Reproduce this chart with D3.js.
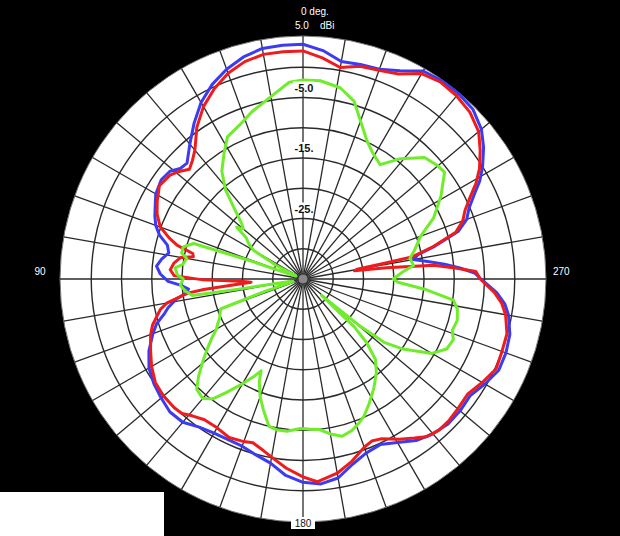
<!DOCTYPE html>
<meta charset="utf-8">
<style>
  body { margin: 0; background: #000; }
  svg { display: block; }
</style>
<script src="https://d3js.org/d3.v7.min.js"></script>
<div id="chart"></div>
<script>
// azimuth (deg, counter-clockwise from top) and gain (dBi) for each trace
var blueAngle = [0,5,10,15,20,25,30,35,40,45,48,51,55,60,63,67,70,73,76,79,82,85,88,91,93,95,97,99,102,104,107,110,115,120,125,130,135,140,145,150,155,160,165,170,175,180,185,190,195,200,205,210,215,220,225,230,235,240,245,250,255,260,263,266,270,272,274,276,278,280,282,284,287,290,293,296,299,302,306,310,315,320,325,330,335,340,345,350,355];
var blueDb = [3.8,3.8,3.7,3.0,1.9,0.5,-1.3,-3.6,-5.9,-7.9,-7.7,-6.7,-6.4,-6.9,-7.6,-8.4,-9.1,-10.2,-11.9,-12.4,-11.4,-10.7,-11.4,-12.7,-14.8,-16.0,-15.5,-13.8,-12.2,-11.4,-9.7,-8.6,-6.9,-5.6,-4.9,-4.4,-3.9,-4.1,-5.1,-5.6,-5.7,-5.6,-4.9,-4.1,-2.4,-1.4,-1.0,-1.6,-3.3,-4.4,-4.8,-3.8,-2.4,-1.6,-1.1,-1.1,-1.3,-0.3,0.7,0.7,0.4,-0.5,-1.4,-2.9,-5.6,-6.6,-9.0,-11.5,-14.2,-16.5,-15.5,-12.5,-8.2,-6.2,-5.2,-3.6,-1.6,0.0,1.9,3.5,4.7,5.0,5.0,4.7,3.0,1.9,1.7,1.5,2.9];

var redAngle = [0,5,10,15,20,25,30,35,40,43,46,49,52,57,62,66,70,73,75,77,78.5,80,83,86,88.5,90.5,92,93.5,95,96,97,100,102,107,110,115,120,125,130,135,138,141,145,150,155,160,163,167,170,175,180,184,190,195,200,203,206,211,215,218,222,226,230,235,240,245,250,255,260,263,266,270,272.5,274,276,277.7,279,280.2,281,281.5,284,287,290,293,296,299,302,306,310,315,320,325,330,335,340,345,350,355];
var redDb = [2.7,2.7,2.7,2.2,1.2,-0.3,-2.1,-4.4,-7.2,-8.2,-8.9,-7.9,-7.1,-6.7,-7.7,-8.6,-9.9,-11.9,-13.5,-16.3,-16.5,-14.5,-13.5,-13.0,-13.7,-18.5,-24.7,-26.4,-23.1,-18.5,-15.8,-12.2,-10.9,-9.0,-8.2,-7.2,-6.1,-5.2,-4.9,-4.9,-5.1,-5.9,-6.6,-6.6,-6.1,-6.4,-6.7,-5.9,-5.1,-3.6,-2.3,-1.4,-2.4,-3.8,-5.4,-5.9,-5.6,-4.1,-2.9,-1.9,-1.4,-1.4,-1.6,-1.8,-0.8,0.2,0.0,-0.1,-1.0,-1.9,-3.3,-5.7,-6.4,-9.5,-13.3,-21.1,-26.4,-25.9,-20.9,-16.5,-12.8,-8.6,-6.9,-5.9,-4.3,-2.3,-0.6,1.2,2.9,4.0,4.5,4.7,4.2,2.4,1.7,1.4,0.5,1.7];

var greenAngle = [0,4,9,13,17,22,28,32,37,41,44,48,50,52,54,57,60,63,66,69,71,72,75,78,80,83,85,88,90,93,96,98.5,99,100,104,108,110,115,118,120,123,126,129,133,136,140,143,146,150,153,155.5,157,160,163,167,170,174,179,182,186,190,194,198,201,204,208,213,218,222,225,227,228.5,229.5,230.5,232,235,240,244,248,251,255,259,262,265,268,270,274,277,281,284,290,295,301,307,310,315,321,326,331,335,340,344,349,355];
var greenDb = [-2.1,-2.4,-4.1,-5.2,-6.1,-7.4,-8.4,-10.4,-12.7,-15.5,-18.5,-21.4,-22.1,-21.1,-23.4,-24.3,-25.6,-30.0,-33.7,-33.7,-25.1,-16.0,-14.5,-14.5,-15.5,-15.0,-13.8,-14.2,-15.2,-14.7,-15.5,-16.5,-25.1,-32.5,-33.3,-28.4,-20.5,-19.8,-19.0,-18.5,-17.0,-15.5,-13.8,-11.4,-9.7,-9.2,-10.2,-12.4,-15.0,-16.8,-18.3,-16.5,-14.3,-12.5,-10.0,-9.7,-9.7,-10.3,-10.2,-10.0,-9.0,-8.2,-8.7,-9.4,-10.2,-11.7,-13.5,-15.3,-17.1,-20.1,-23.4,-30.9,-28.4,-22.8,-18.0,-14.8,-10.4,-8.6,-8.2,-8.9,-8.6,-9.0,-9.9,-14.5,-19.3,-20.1,-18.5,-16.6,-17.0,-16.1,-14.3,-11.2,-8.4,-5.7,-5.9,-6.6,-9.4,-12.2,-11.2,-9.9,-7.2,-4.4,-2.8,-2.1];

var ringDb = [-30, -25, -20, -15, -10, -5, 0];
var ringLabels = [{ db: -25, text: "-25." }, { db: -15, text: "-15." }, { db: -5, text: "-5.0" }];

var width = 620, height = 536;
var cx = 303, cy = 279;
var outer = 243;

var svg = d3.select("#chart").append("svg")
  .attr("width", width)
  .attr("height", height);

svg.append("rect").attr("width", width).attr("height", height).attr("fill", "#000");

var r = d3.scaleLinear().domain([-35, 5]).range([0, 242]).clamp(true);

var g = svg.append("g").attr("transform", "translate(" + cx + "," + cy + ")");

// white plot disk
g.append("circle").attr("r", outer).attr("fill", "#fff").attr("stroke", "#777").attr("stroke-width", 1);

// spokes every 10 degrees
g.selectAll(".spoke")
  .data(d3.range(0, 360, 10))
  .enter().append("line")
  .attr("x1", 0).attr("y1", 0)
  .attr("x2", function (d) { return -outer * Math.sin(d * Math.PI / 180); })
  .attr("y2", function (d) { return -outer * Math.cos(d * Math.PI / 180); })
  .attr("stroke", "#2a2a2a")
  .attr("stroke-width", 1.3);

// rings
g.selectAll(".ring")
  .data(ringDb)
  .enter().append("circle")
  .attr("r", function (d) { return r(d); })
  .attr("fill", "none")
  .attr("stroke", "#2a2a2a")
  .attr("stroke-width", 1.4);

g.append("circle").attr("r", 5).attr("fill", "#888").attr("stroke", "#333");

// traces
var line = d3.lineRadial()
  .angle(function (d) { return -d[0] * Math.PI / 180; })
  .radius(function (d) { return r(d[1]); })
  .curve(d3.curveLinearClosed);

function trace(angles, values, color) {
  g.append("path")
    .datum(d3.zip(angles, values))
    .attr("d", line)
    .attr("fill", "none")
    .attr("stroke", color)
    .attr("stroke-width", 3)
    .attr("stroke-linejoin", "round");
}
trace(blueAngle, blueDb, "#3b3bf2");
trace(redAngle, redDb, "#ee1c1c");
trace(greenAngle, greenDb, "#6fec2a");

// ring labels with white backing
var lab = g.selectAll(".rlab").data(ringLabels).enter().append("g");
lab.append("rect")
  .attr("x", -10).attr("width", 21)
  .attr("y", function (d) { return -r(d.db) - 16; })
  .attr("height", 10)
  .attr("fill", "#fff");
lab.append("text")
  .attr("x", 1)
  .attr("y", function (d) { return -r(d.db) - 6; })
  .attr("text-anchor", "middle")
  .style("font", "bold 11px 'Liberation Sans', Arial, sans-serif")
  .attr("fill", "#111")
  .text(function (d) { return d.text; });

// header / angle labels
var small = "10px 'Liberation Sans', Arial, sans-serif";
svg.append("text").attr("x", 301).attr("y", 15).attr("fill", "#fff").style("font", small).text("0 deg.");
svg.append("text").attr("x", 295).attr("y", 29).attr("fill", "#fff").style("font", small).text("5.0");
svg.append("text").attr("x", 320).attr("y", 29).attr("fill", "#fff").style("font", small).text("dBi");
svg.append("text").attr("x", 40).attr("y", 275).attr("text-anchor", "middle").attr("fill", "#fff").style("font", small).text("90");
svg.append("text").attr("x", 553).attr("y", 275).attr("fill", "#fff").style("font", small).text("270");
svg.append("rect").attr("x", 291).attr("y", 517).attr("width", 24).attr("height", 12).attr("fill", "#fff");
svg.append("text").attr("x", 303).attr("y", 527).attr("text-anchor", "middle").attr("fill", "#111").style("font", small).text("180");

// white box bottom-left
svg.append("rect").attr("x", 0).attr("y", 492).attr("width", 164).attr("height", 44).attr("fill", "#fff");
</script>
